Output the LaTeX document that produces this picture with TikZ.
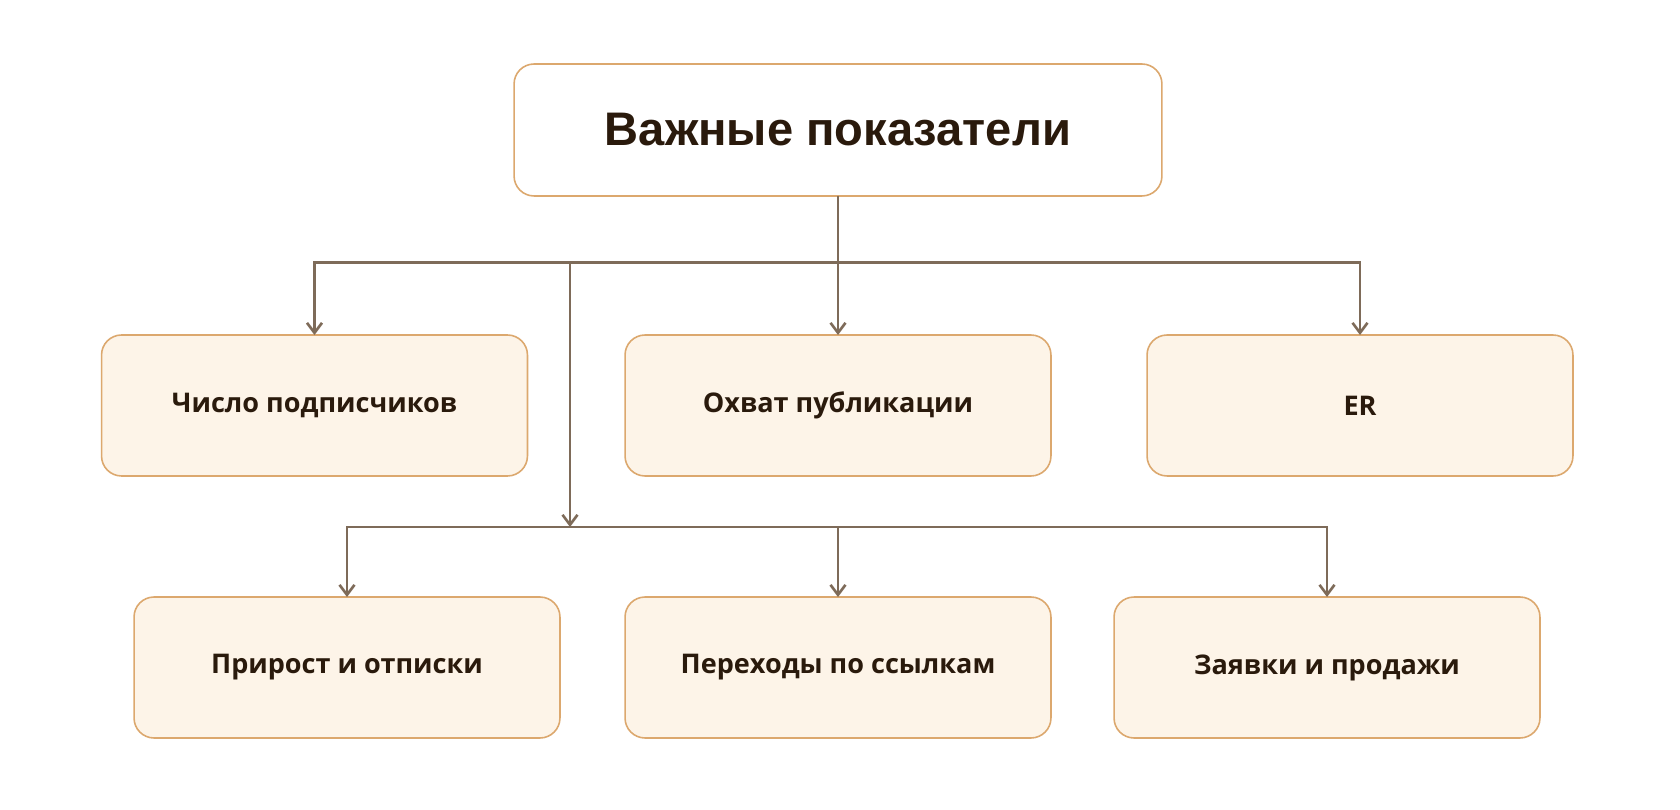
\documentclass[tikz,border=0pt]{standalone}
\usepackage{fontspec}
\setmainfont{Open Sans}
\newfontfamily\titlefont{Liberation Sans}
\usetikzlibrary{arrows.meta}
\definecolor{boxline}{HTML}{DCA86E}
\definecolor{boxfill}{HTML}{FDF4E8}
\definecolor{wire}{HTML}{7E6B59}
\definecolor{ink}{HTML}{2A1A0C}
\begin{document}
\begin{tikzpicture}[x=0.02cm,y=-0.02cm]
  \tikzstyle{mainbox} = [draw=boxline,line width=0.9pt,fill=white,rounded corners=0.4cm,
                         minimum width=12.96cm,minimum height=2.64cm,inner sep=0pt,outer sep=0pt,
                         text=ink,font=\titlefont\bfseries\fontsize{26.8}{32}\selectfont]
  \tikzstyle{itembox} = [draw=boxline,line width=0.9pt,fill=boxfill,rounded corners=0.4cm,
                         minimum width=8.52cm,minimum height=2.82cm,inner sep=0pt,outer sep=0pt,
                         text=ink,font=\bfseries\fontsize{15.4}{19}\selectfont]
  \tikzstyle{link}    = [draw=wire,line width=1.5pt,-{Straight Barb[length=0.2cm,width=0.3cm,line width=1.5pt]}]
  \tikzstyle{wireonly}= [draw=wire,line width=1.5pt]
  \useasboundingbox[fill=white] (0,0) rectangle (1680,810);
  % root
  \path (838,130) node[mainbox](root) {Важные показатели};
  % first row
  \path (314.5,405.5) node[itembox](subs)  {Число подписчиков};
  \path (838,405.5)   node[itembox](reach) {Охват публикации};
  \path (1360,405.5)  node[itembox](er)    {ER};
  % second row
  \path (347,667.5)   node[itembox](growth) {Прирост и отписки};
  \path (838,667.5)   node[itembox](clicks) {Переходы по ссылкам};
  \path (1327,667.5)  node[itembox](sales)  {Заявки и продажи};
  % junctions
  \coordinate (top)   at (838,262.5);
  \coordinate (fork)  at (570,262.5);
  \coordinate (low)   at (570,527);
  % connectors
  \draw[wireonly] (root.south) -- (top);
  \draw[link] (top) -| (subs.north);
  \draw[link] (top) -- (reach.north);
  \draw[link] (top) -| (er.north);
  \draw[link] (fork) -- (low);
  \draw[link] (low) -| (growth.north);
  \draw[link] (low) -| (clicks.north);
  \draw[link] (low) -| (sales.north);
\end{tikzpicture}
\end{document}
